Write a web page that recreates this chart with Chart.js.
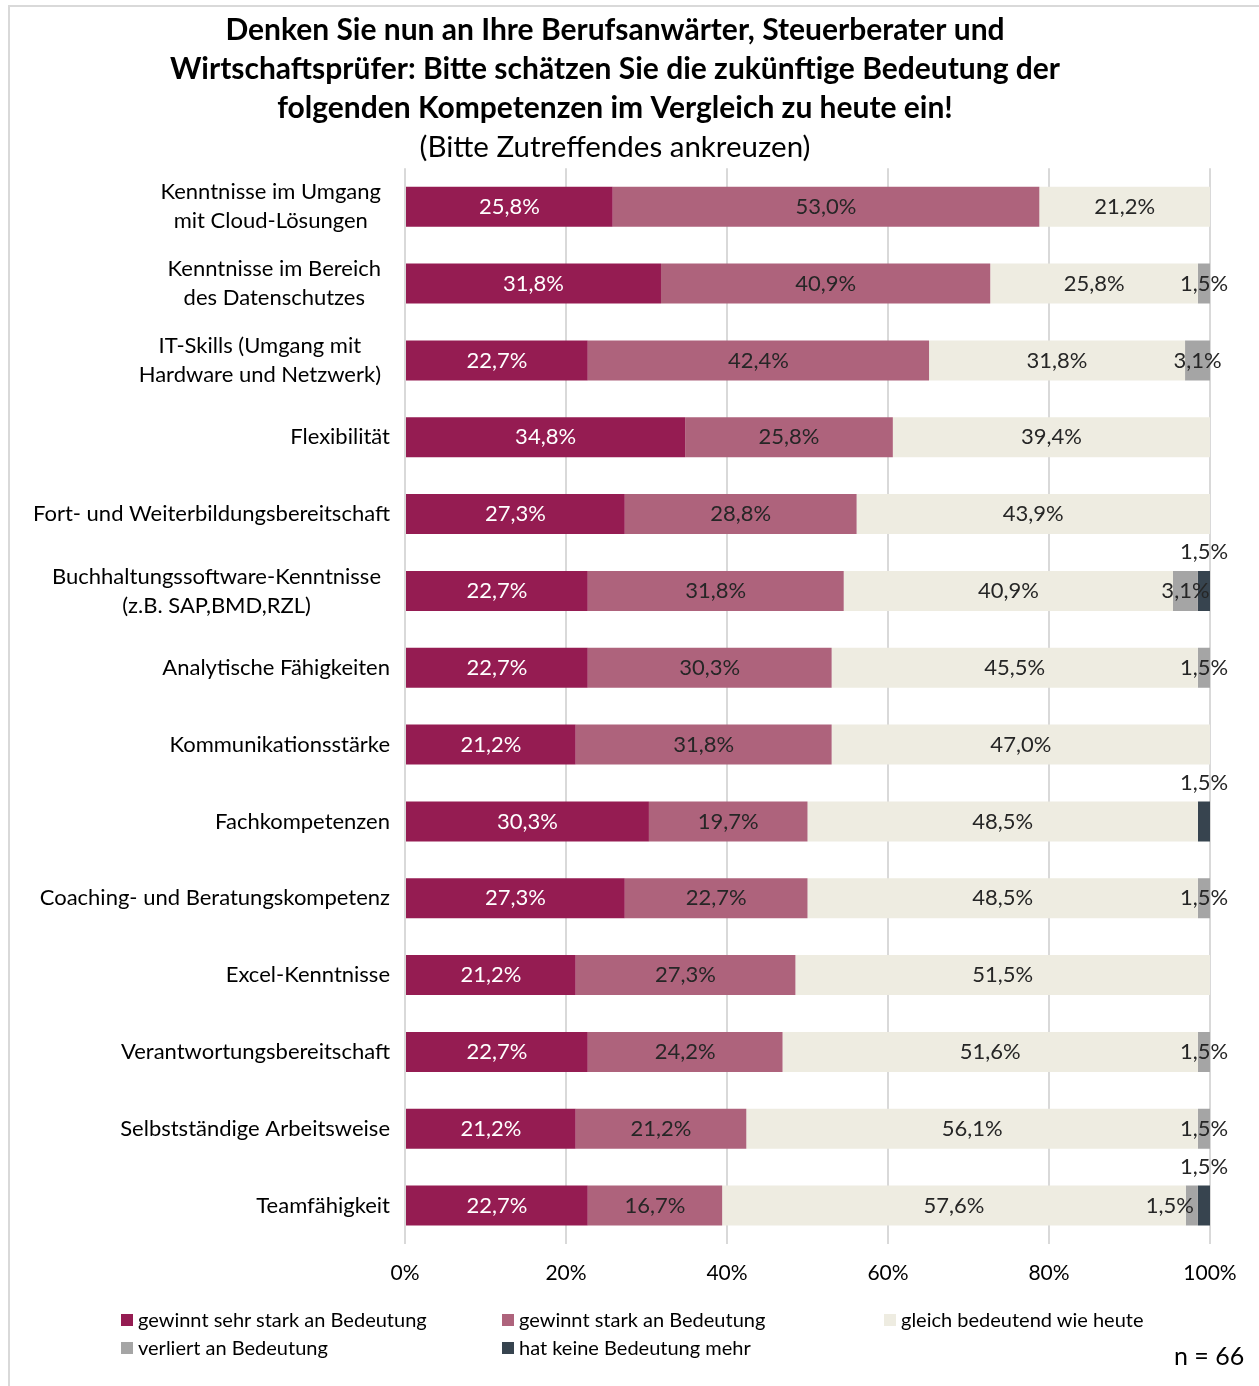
<!DOCTYPE html>
<html>
<head>
<meta charset="utf-8">
<script src="https://cdn.jsdelivr.net/npm/chart.js@4.4.1/dist/chart.umd.min.js"></script>
<style>
  body { margin: 0; background: #fff; font-family: Lato, sans-serif; }
  #wrap { position: relative; width: 1259px; height: 1386px; }
  #frame { position: absolute; left: 8px; top: 5px; width: 1260px; height: 1390px; border: 2px solid #d9d9d9; box-sizing: border-box; }
  .leg { position: absolute; font-size: 20px; color: #000; line-height: 24px; white-space: nowrap; }
  .leg i { display: inline-block; width: 12px; height: 12px; margin-right: 5px; vertical-align: 1px; }
  #n { position: absolute; left: 1174px; top: 1340px; font-size: 25px; color: #000; }
</style>
</head>
<body>
<div id="wrap">
  <div id="frame"></div>
  <canvas id="chart" width="1259" height="1386"></canvas>
  <div class="leg" style="left:121px;top:1307px"><i style="background:#951c52"></i>gewinnt sehr stark an Bedeutung</div>
  <div class="leg" style="left:502px;top:1307px"><i style="background:#ae637c"></i>gewinnt stark an Bedeutung</div>
  <div class="leg" style="left:884px;top:1307px"><i style="background:#eeece1"></i>gleich bedeutend wie heute</div>
  <div class="leg" style="left:121px;top:1335px"><i style="background:#a5a5a5"></i>verliert an Bedeutung</div>
  <div class="leg" style="left:502px;top:1335px"><i style="background:#37444f"></i>hat keine Bedeutung mehr</div>
  <div id="n">n = 66</div>
</div>
<script>
const categories = [
  ['Kenntnisse im Umgang', 'mit Cloud-Lösungen'],
  ['Kenntnisse im Bereich', 'des Datenschutzes'],
  ['IT-Skills (Umgang mit', 'Hardware und Netzwerk)'],
  'Flexibilität',
  'Fort- und Weiterbildungsbereitschaft',
  ['Buchhaltungssoftware-Kenntnisse', '(z.B. SAP,BMD,RZL)'],
  'Analytische Fähigkeiten',
  'Kommunikationsstärke',
  'Fachkompetenzen',
  'Coaching- und Beratungskompetenz',
  'Excel-Kenntnisse',
  'Verantwortungsbereitschaft',
  'Selbstständige Arbeitsweise',
  'Teamfähigkeit'
];
const sehrStark = [25.8, 31.8, 22.7, 34.8, 27.3, 22.7, 22.7, 21.2, 30.3, 27.3, 21.2, 22.7, 21.2, 22.7];
const stark     = [53.0, 40.9, 42.4, 25.8, 28.8, 31.8, 30.3, 31.8, 19.7, 22.7, 27.3, 24.2, 21.2, 16.7];
const gleich    = [21.2, 25.8, 31.8, 39.4, 43.9, 40.9, 45.5, 47.0, 48.5, 48.5, 51.5, 51.6, 56.1, 57.6];
const verliert  = [0, 1.5, 3.1, 0, 0, 3.1, 1.5, 0, 0, 1.5, 0, 1.5, 1.5, 1.5];
const keine     = [0, 0, 0, 0, 0, 1.5, 0, 0, 1.5, 0, 0, 0, 0, 1.5];
const seriesNames = ['gewinnt sehr stark an Bedeutung', 'gewinnt stark an Bedeutung', 'gleich bedeutend wie heute', 'verliert an Bedeutung', 'hat keine Bedeutung mehr'];
const colors = ['#951c52', '#ae637c', '#eeece1', '#a5a5a5', '#37444f'];
const xTicks = [0, 20, 40, 60, 80, 100];

const fmt = v => v.toFixed(1).replace('.', ',') + '%';

// value labels, Excel-style
const valueLabels = {
  id: 'valueLabels',
  afterDatasetsDraw(chart) {
    const ctx = chart.ctx;
    ctx.save();
    ctx.font = '22px Lato';
    ctx.textBaseline = 'middle';
    chart.data.datasets.forEach((ds, i) => {
      const meta = chart.getDatasetMeta(i);
      meta.data.forEach((bar, j) => {
        const v = ds.data[j];
        if (!v) return;
        ctx.fillStyle = i === 0 ? '#ffffff' : '#262626';
        let x = (bar.x + bar.base) / 2, y = bar.y;
        ctx.textAlign = 'center';
        if (i === 4) {
          y = bar.y - bar.height / 2 - 19;
        } else if (i === 3 && keine[j] && v < 2) {
          ctx.textAlign = 'right';
          x = bar.x - 4;
        }
        ctx.fillText(fmt(v), x, y);
      });
    });
    ctx.restore();
  }
};

// category labels: lines centred on each other, block right-aligned
const catLabels = {
  id: 'catLabels',
  afterDraw(chart) {
    const ctx = chart.ctx, y = chart.scales.y;
    ctx.save();
    ctx.font = '22px Lato';
    ctx.fillStyle = '#000';
    ctx.textAlign = 'center';
    ctx.textBaseline = 'middle';
    categories.forEach((c, i) => {
      const lines = Array.isArray(c) ? c : [c];
      const maxW = Math.max(...lines.map(l => ctx.measureText(l).width));
      const right = lines.length > 1 ? 381 : 390;
      const cx = right - maxW / 2;
      const cy = y.getPixelForTick(i);
      lines.forEach((l, k) => ctx.fillText(l, cx, cy + (k - (lines.length - 1) / 2) * 29));
    });
    ctx.restore();
  }
};

new Chart(document.getElementById('chart'), {
  type: 'bar',
  data: {
    labels: categories,
    datasets: [sehrStark, stark, gleich, verliert, keine].map((d, i) => ({
      label: seriesNames[i],
      data: d,
      backgroundColor: colors[i],
      borderWidth: 0,
      barPercentage: 0.52,
      categoryPercentage: 1
    }))
  },
  options: {
    indexAxis: 'y',
    responsive: false,
    animation: false,
    layout: { padding: { left: 20, right: 49, top: 11, bottom: 97 } },
    plugins: {
      legend: { display: false },
      tooltip: { enabled: false },
      title: {
        display: true,
        text: ['Denken Sie nun an Ihre Berufsanwärter, Steuerberater und', 'Wirtschaftsprüfer: Bitte schätzen Sie die zukünftige Bedeutung der', 'folgenden Kompetenzen im Vergleich zu heute ein!'],
        color: '#000',
        font: { family: 'Lato', size: 30, weight: 'bold', lineHeight: 1.3 },
        padding: { top: 0, bottom: 0 }
      },
      subtitle: {
        display: true,
        text: '(Bitte Zutreffendes ankreuzen)',
        color: '#000',
        font: { family: 'Lato', size: 29.5, lineHeight: 1.3 },
        padding: { top: 0, bottom: 2 }
      }
    },
    scales: {
      x: {
        stacked: true,
        min: 0,
        max: 100,
        afterBuildTicks: s => { s.ticks = xTicks.map(v => ({ value: v })); },
        afterFit: s => { s.height = 45; },
        ticks: { color: '#000', font: { family: 'Lato', size: 21 }, padding: 17, callback: v => v + '%' },
        grid: { color: '#d9d9d9', lineWidth: 2, drawTicks: false },
        border: { display: false }
      },
      y: {
        stacked: true,
        afterFit: s => { s.width = 385; },
        ticks: { color: 'transparent', font: { family: 'Lato', size: 20 } },
        grid: { display: false },
        border: { display: false }
      }
    }
  },
  plugins: [valueLabels, catLabels]
});
</script>
</body>
</html>
